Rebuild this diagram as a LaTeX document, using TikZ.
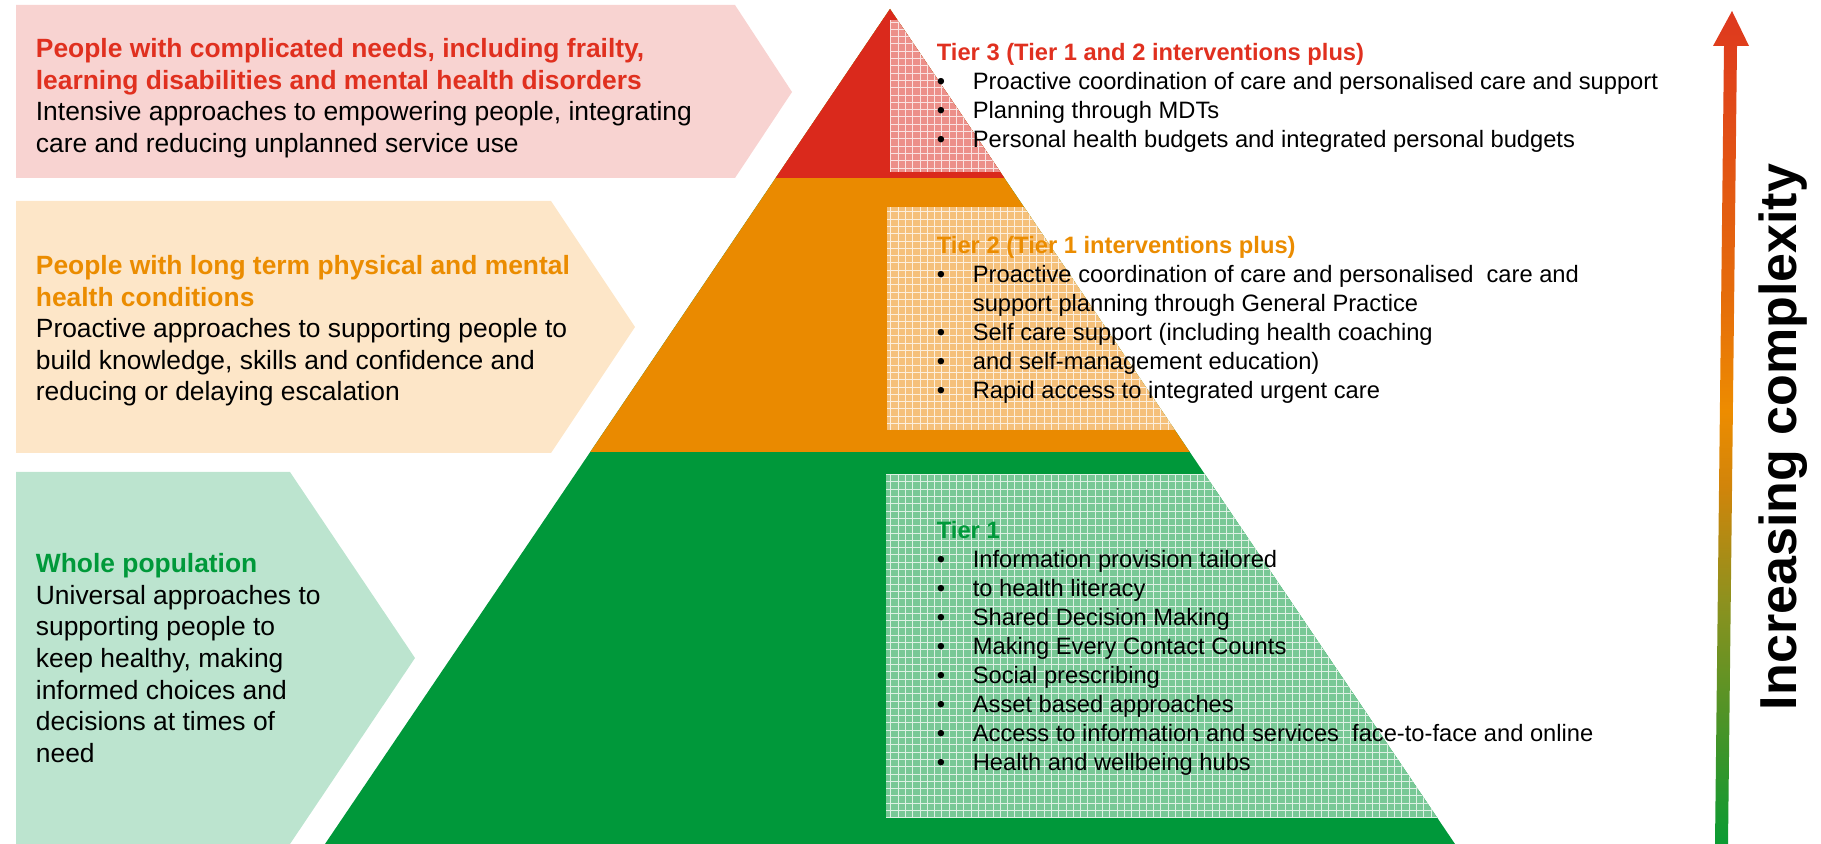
\documentclass[tikz,border=0pt]{standalone}
\usepackage{fontspec}
\setmainfont{Liberation Sans}

% palette
\definecolor{tierred}{HTML}{DA291C}
\definecolor{tierorange}{HTML}{EA8A00}
\definecolor{tiergreen}{HTML}{00983A}
\definecolor{bandpink}{HTML}{F8D3D1}
\definecolor{bandpeach}{HTML}{FDE6C8}
\definecolor{bandmint}{HTML}{BCE4CF}
\definecolor{headred}{HTML}{E0301F}
\definecolor{headorange}{HTML}{EB8C00}
\definecolor{headgreen}{HTML}{00993A}
\definecolor{hatchred}{HTML}{EC8F89}
\definecolor{hatchorange}{HTML}{F5C07A}
\definecolor{hatchgreen}{HTML}{78C896}

% colour ramp of the complexity axis, green at the foot to red at the head
% (the shaded path's bounding box spans 25bp..75bp of the ramp)
\pgfdeclareverticalshading{complexityramp}{100bp}{%
  rgb(0bp)=(0.04,0.61,0.20);
  rgb(25bp)=(0.04,0.61,0.20);
  rgb(31bp)=(0.25,0.58,0.16);
  rgb(39.5bp)=(0.55,0.57,0.12);
  rgb(46.5bp)=(0.82,0.52,0.04);
  rgb(51bp)=(0.93,0.55,0.00);
  rgb(57.5bp)=(0.90,0.43,0.04);
  rgb(75bp)=(0.87,0.22,0.12);
  rgb(100bp)=(0.87,0.22,0.12)}

% list helpers: bullet column and plain indent
\newcommand\blt{\makebox[18pt][l]{\textbullet}}
\newcommand\nob{\hspace*{18pt}}

\tikzset{
  bandtext/.style={anchor=north west, inner sep=0pt, align=left,
    font=\fontsize{13.2}{15.8}\selectfont},
  tiertext/.style={anchor=north west, inner sep=0pt, align=left,
    font=\fontsize{11.85}{14.5}\selectfont},
  hatchgrid/.style={draw=white, draw opacity=0.75, line width=0.3pt},
}

\begin{document}
\begin{tikzpicture}[x=0.5pt, y=-0.5pt]
\useasboundingbox (0,0) rectangle (1821,844);

% ---- chevron bands on the left ----
\fill[bandpink]  (16,5)   -- (735,5)   -- (792,92)  -- (735,178) -- (16,178) -- cycle;
\fill[bandpeach] (16,201) -- (551,201) -- (635,327) -- (551,453) -- (16,453) -- cycle;
\fill[bandmint]  (16,472) -- (290,472) -- (415,658) -- (290,844) -- (16,844) -- cycle;

\node[bandtext] (band3) at (35.5,30.8) {\rule{0pt}{1em}\textcolor{headred}{\bfseries People with complicated needs, including frailty,}\\
  \textcolor{headred}{\bfseries learning disabilities and mental health disorders}\\
  Intensive approaches to empowering people, integrating\\
  care and reducing unplanned service use};

\node[bandtext] (band2) at (35.5,247.8) {\rule{0pt}{1em}\textcolor{headorange}{\bfseries People with long term physical and mental}\\
  \textcolor{headorange}{\bfseries health conditions}\\
  Proactive approaches to supporting people to\\
  build knowledge, skills and confidence and\\
  reducing or delaying escalation};

\node[bandtext] (band1) at (35.5,545.8) {\rule{0pt}{1em}\textcolor{headgreen}{\bfseries Whole population}\\
  Universal approaches to\\
  supporting people to\\
  keep healthy, making\\
  informed choices and\\
  decisions at times of\\
  need};

% ---- pyramid ----
\coordinate (apex) at (890,9);
\coordinate (baseL) at (325,844);
\coordinate (baseR) at (1455,844);
\fill[tiergreen] (apex) -- (baseR) -- (baseL) -- cycle;
\fill[tierorange] (apex) -- (1189.7,452) -- (590.3,452) -- cycle;
\fill[tierred] (apex) -- (1004.4,178) -- (775.6,178) -- cycle;

% tinted, gridded panels inside each tier
\begin{scope}
  \clip (apex) -- (baseR) -- (baseL) -- cycle;
  \fill[hatchred] (890,20) rectangle (1821,172);
  \draw[hatchgrid, step=3.65pt] (890,20) grid (1821,172);
  \fill[hatchorange] (887,207) rectangle (1821,430);
  \draw[hatchgrid, step=3.65pt] (887,207) grid (1821,430);
  \fill[hatchgreen] (886,474) rectangle (1821,818);
  \draw[hatchgrid, step=3.65pt] (886,474) grid (1821,818);
\end{scope}

\node[tiertext] (tier3) at (936.5,36.6) {\rule{0pt}{1em}\textcolor{headred}{\bfseries Tier 3 (Tier 1 and 2 interventions plus)}\\
  \blt Proactive coordination of care and personalised care and support\\
  \blt Planning through MDTs\\
  \blt Personal health budgets and integrated personal budgets};

\node[tiertext] (tier2) at (936.5,229.6) {\rule{0pt}{1em}\textcolor{headorange}{\bfseries Tier 2 (Tier 1 interventions plus)}\\
  \blt Proactive coordination of care and personalised\ \ care and\\
  \nob support planning through General Practice\\
  \blt Self care support (including health coaching\\
  \blt and self-management education)\\
  \blt Rapid access to integrated urgent care};

\node[tiertext] (tier1) at (936.5,514.6) {\rule{0pt}{1em}\textcolor{headgreen}{\bfseries Tier 1}\\
  \blt Information provision tailored\\
  \blt to health literacy\\
  \blt Shared Decision Making\\
  \blt Making Every Contact Counts\\
  \blt Social prescribing\\
  \blt Asset based approaches\\
  \blt Access to information and services\ \ face-to-face and online\\
  \blt Health and wellbeing hubs};

% ---- complexity axis ----
\shade[shading=complexityramp]
  (1715,844) -- (1728,844) -- (1737,46) -- (1749,46) -- (1732,11)
  -- (1713,46) -- (1724,46) -- cycle;
\node[rotate=90, inner sep=0pt, font=\fontsize{26}{30}\bfseries\selectfont] (axislabel)
  at (1783,437) {Increasing complexity};
\end{tikzpicture}
\end{document}
